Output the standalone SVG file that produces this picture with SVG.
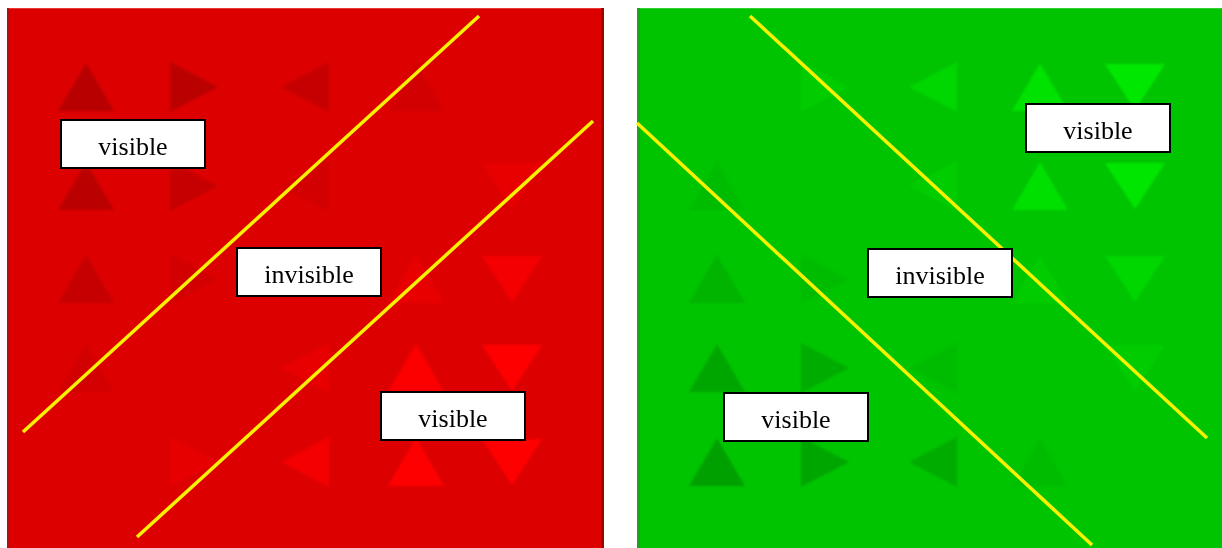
<svg xmlns="http://www.w3.org/2000/svg" xmlns:xlink="http://www.w3.org/1999/xlink" width="1222" height="548" viewBox="0 0 1222 548">
<defs>
<style>
.lbl rect{fill:#fff;stroke:#000;stroke-width:2}
.lbl text{font-family:"Liberation Serif","Times New Roman",serif;font-size:26px;fill:#000;text-anchor:middle}
.yl{stroke:#f8f200;stroke-width:3.5;stroke-linecap:butt;fill:none}
</style>
<filter id="soft" x="-10%" y="-10%" width="120%" height="120%"><feGaussianBlur stdDeviation="0.9"/></filter>
<path id="up" d="M-28,24 L0,-24 L28,24 Z"/>
<path id="rt" d="M-24,-25 L24,0 L-24,25 Z"/>
<path id="lt" d="M24,-25 L-24,0 L24,25 Z"/>
<path id="dn" d="M-30,-23 L30,-23 L0,23 Z"/>
</defs>
<rect width="1222" height="548" fill="#fff"/>
<g id="red-panel">
<rect x="7" y="8" width="597" height="540" fill="#dd0000"/>
<line x1="7" y1="8.5" x2="604" y2="8.5" stroke="#e63a3a" stroke-width="1"/>
<line x1="8" y1="8" x2="8" y2="548" stroke="#b01010" stroke-width="2"/>
<line x1="602.5" y1="8" x2="602.5" y2="548" stroke="#a00000" stroke-width="3"/>
<g filter="url(#soft)">
<use xlink:href="#up" x="86" y="87" fill="#b80000"/>
<use xlink:href="#rt" x="194" y="87" fill="#bb0000"/>
<use xlink:href="#lt" x="305" y="87" fill="#c60000"/>
<use xlink:href="#up" x="416" y="87" fill="#d20000"/>
<use xlink:href="#dn" x="512" y="87" fill="#dd0000"/>
<use xlink:href="#up" x="86" y="186" fill="#bb0000"/>
<use xlink:href="#rt" x="194" y="186" fill="#c60000"/>
<use xlink:href="#lt" x="305" y="186" fill="#d20000"/>
<use xlink:href="#up" x="416" y="186" fill="#dd0000"/>
<use xlink:href="#dn" x="512" y="186" fill="#e80000"/>
<use xlink:href="#up" x="86" y="279" fill="#c60000"/>
<use xlink:href="#rt" x="194" y="279" fill="#d20000"/>
<use xlink:href="#lt" x="305" y="279" fill="#dd0000"/>
<use xlink:href="#up" x="416" y="279" fill="#e80000"/>
<use xlink:href="#dn" x="512" y="279" fill="#f40000"/>
<use xlink:href="#up" x="86" y="368" fill="#d20000"/>
<use xlink:href="#rt" x="194" y="368" fill="#dd0000"/>
<use xlink:href="#lt" x="305" y="368" fill="#e80000"/>
<use xlink:href="#up" x="416" y="368" fill="#fc0000"/>
<use xlink:href="#dn" x="512" y="368" fill="#ff0000"/>
<use xlink:href="#up" x="86" y="462" fill="#dd0000"/>
<use xlink:href="#rt" x="194" y="462" fill="#e60000"/>
<use xlink:href="#lt" x="305" y="462" fill="#f40000"/>
<use xlink:href="#up" x="416" y="462" fill="#ff0000"/>
<use xlink:href="#dn" x="512" y="462" fill="#ff0000"/>
</g>
</g>
<g id="green-panel">
<rect x="637" y="8" width="585" height="540" fill="#00c400"/>
<line x1="637" y1="8.5" x2="1222" y2="8.5" stroke="#30d030" stroke-width="1"/>
<line x1="638.5" y1="8" x2="638.5" y2="548" stroke="#20a020" stroke-width="3"/>
<g filter="url(#soft)">
<use xlink:href="#up" x="717" y="87" fill="#00c400"/>
<use xlink:href="#rt" x="825" y="87" fill="#00cc00"/>
<use xlink:href="#lt" x="933" y="87" fill="#00d600"/>
<use xlink:href="#up" x="1040" y="87" fill="#00e200"/>
<use xlink:href="#dn" x="1135" y="87" fill="#00e800"/>
<use xlink:href="#up" x="717" y="186" fill="#00bc00"/>
<use xlink:href="#rt" x="825" y="186" fill="#00c400"/>
<use xlink:href="#lt" x="933" y="186" fill="#00cc00"/>
<use xlink:href="#up" x="1040" y="186" fill="#00e000"/>
<use xlink:href="#dn" x="1135" y="186" fill="#00e600"/>
<use xlink:href="#up" x="717" y="279" fill="#00b400"/>
<use xlink:href="#rt" x="825" y="279" fill="#00bc00"/>
<use xlink:href="#lt" x="933" y="279" fill="#00c400"/>
<use xlink:href="#up" x="1040" y="279" fill="#00cc00"/>
<use xlink:href="#dn" x="1135" y="279" fill="#00d600"/>
<use xlink:href="#up" x="717" y="368" fill="#00a600"/>
<use xlink:href="#rt" x="825" y="368" fill="#00ac00"/>
<use xlink:href="#lt" x="933" y="368" fill="#00bc00"/>
<use xlink:href="#up" x="1040" y="368" fill="#00c400"/>
<use xlink:href="#dn" x="1135" y="368" fill="#00cc00"/>
<use xlink:href="#up" x="717" y="462" fill="#00a000"/>
<use xlink:href="#rt" x="825" y="462" fill="#00a600"/>
<use xlink:href="#lt" x="933" y="462" fill="#00ac00"/>
<use xlink:href="#up" x="1040" y="462" fill="#00bc00"/>
<use xlink:href="#dn" x="1135" y="462" fill="#00c400"/>
</g>
</g>
<g id="connectors">
<line class="yl" x1="479" y1="16" x2="23" y2="432"/>
<line class="yl" x1="593" y1="121" x2="137" y2="537"/>
<line class="yl" x1="750" y1="16" x2="1207" y2="438"/>
<line class="yl" x1="637" y1="123" x2="1092" y2="545"/>
</g>
<g id="label-red-visible-top" class="lbl"><rect x="61" y="120" width="144" height="48"/><text x="133" y="155">visible</text></g>
<g id="label-red-invisible" class="lbl"><rect x="237" y="248" width="144" height="48"/><text x="309" y="283">invisible</text></g>
<g id="label-red-visible-bottom" class="lbl"><rect x="381" y="392" width="144" height="48"/><text x="453" y="427">visible</text></g>
<g id="label-green-visible-top" class="lbl"><rect x="1026" y="104" width="144" height="48"/><text x="1098" y="139">visible</text></g>
<g id="label-green-invisible" class="lbl"><rect x="868" y="249" width="144" height="48"/><text x="940" y="284">invisible</text></g>
<g id="label-green-visible-bottom" class="lbl"><rect x="724" y="393" width="144" height="48"/><text x="796" y="428">visible</text></g>
</svg>
